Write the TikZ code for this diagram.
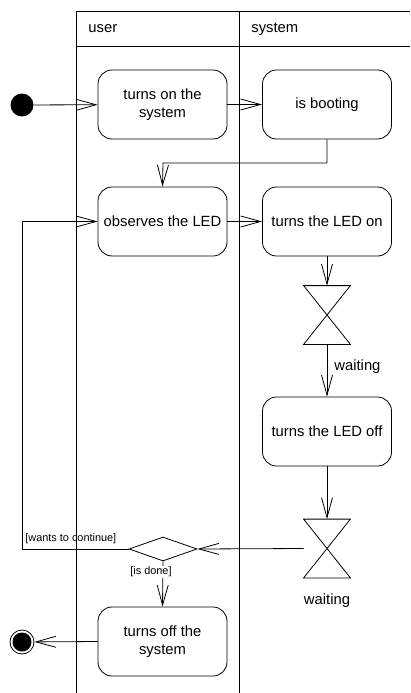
\documentclass[tikz,border=0pt]{standalone}
\usepackage{fontspec}
\setmainfont{Liberation Sans}
\usetikzlibrary{arrows.meta,shapes.geometric}
\begin{document}
\begin{tikzpicture}[x=1pt,y=-1pt,line width=0.8pt,
  flow/.style={-{Straight Barb[length=20pt,width=11pt,line width=0.8pt]}},
  bigtext/.style={font=\fontsize{14.8}{18}\selectfont},
  smalltext/.style={font=\fontsize{10.9}{13}\selectfont},
  action/.style={draw,rounded corners=14pt,minimum width=129pt,minimum height=69pt,
    inner sep=0pt,align=center,bigtext},
  hourglass/.style={minimum width=46pt,minimum height=58pt,inner sep=0pt},
  decision/.style={draw,diamond,minimum width=68pt,minimum height=24pt,inner sep=0pt},
  lanelabel/.style={anchor=west,inner sep=0pt,bigtext}]
\useasboundingbox (0,0) rectangle (410,693);

% swimlanes
\draw (76,693) -- (76,11) -- (410,11);
\draw (76,46) -- (410,46);
\draw (239,11) -- (239,693);
\node[lanelabel] (laneuser) at (88,29) {user};
\node[lanelabel] (lanesys) at (251,29) {system};

% nodes
\node[circle,fill=black,minimum size=23pt,inner sep=0pt] (init) at (22,105) {};
\node[action] (on) at (162.5,104.5) {turns on the\\system};
\node[action] (boot) at (327,104.5) {is booting};
\node[action] (obs) at (162.5,221.5) {observes the LED};
\node[action] (ledon) at (327,221.5) {turns the LED on};
\node[hourglass] (hg1) at (327,315) {};
\node[action] (ledoff) at (327,431.5) {turns the LED off};
\node[hourglass] (hg2) at (327,548.5) {};
\node[decision] (dec) at (163,549) {};
\node[action] (off) at (162.5,641.5) {turns off the\\system};
\node[circle,draw,minimum size=24pt,inner sep=0pt] (final) at (22,642) {};
\fill (final.center) circle[radius=9.5pt];

% hourglass (accept time event) symbols
\draw (hg1.north west) -- (hg1.north east) -- (hg1.south west) -- (hg1.south east) -- cycle;
\draw (hg2.north west) -- (hg2.north east) -- (hg2.south west) -- (hg2.south east) -- cycle;

% labels
\node[bigtext,anchor=west,inner sep=0pt] (wait1) at (334,367) {waiting};
\node[bigtext,inner sep=0pt] (wait2) at (327,601) {waiting};

% flows
\draw[flow] (init) -- (on);
\draw[flow] (on) -- (boot);
\draw[flow] (boot.south) |- (163,163) -- (obs.north);
\draw[flow] (obs) -- (ledon);
\draw[flow] (ledon) -- (hg1);
\draw[flow] (hg1) -- (ledoff);
\draw[flow] (ledoff) -- (hg2);
\draw[flow] (hg2.west) -- (dec.east);
\draw[flow] (dec.west) -- (22,549) |- (obs.west);
\draw[flow] (dec.south) -- (off.north);
\draw[flow] (off.west) -- (final);

\node[smalltext,anchor=west,inner sep=0pt] (guard1) at (25,539) {[wants to continue]};
\node[smalltext,fill=white,inner sep=1pt] (guard2) at (151,572) {[is done]};
\end{tikzpicture}
\end{document}
